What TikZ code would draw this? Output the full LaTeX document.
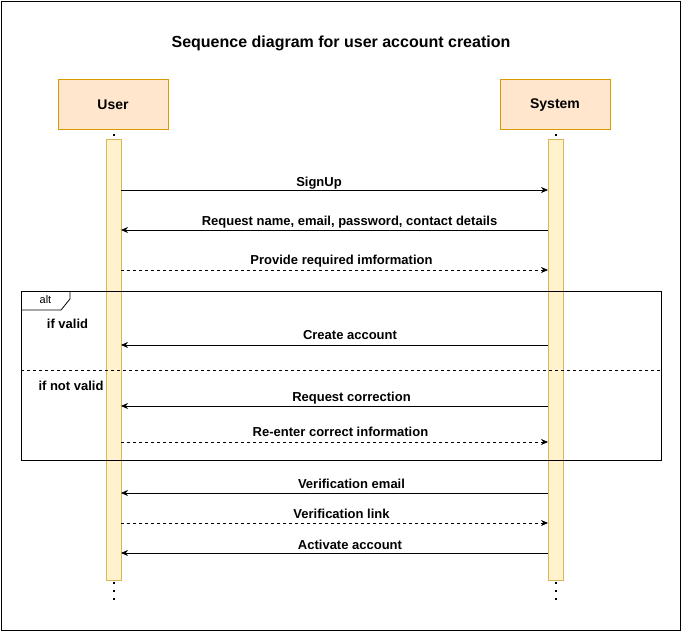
\documentclass[tikz,border=0pt]{standalone}
\usepackage{fontspec}
\setmainfont{Liberation Sans}
\usetikzlibrary{arrows.meta}
\definecolor{hdrfill}{HTML}{FFE6CC}
\definecolor{hdrdraw}{HTML}{D79B00}
\definecolor{barfill}{HTML}{FFF2CC}
\definecolor{bardraw}{HTML}{D6B656}
\tikzset{
  hdr/.style={draw=hdrdraw,fill=hdrfill,line width=1pt,minimum width=110pt,minimum height=50pt,inner sep=0pt,font=\fontsize{14}{16}\selectfont\bfseries},
  actbar/.style={draw=bardraw,fill=barfill,line width=1pt,minimum width=15pt,minimum height=440pt,inner sep=0pt},
  msg/.style={-{Stealth[length=7pt,width=6pt]},line width=0.8pt},
  reply/.style={msg,dashed,dash pattern=on 3pt off 3pt},
  lbl/.style={font=\fontsize{13}{15}\selectfont\bfseries,inner sep=0pt,anchor=base},
  cond/.style={font=\fontsize{13}{15}\selectfont\bfseries,inner sep=0pt},
  dotmark/.style={fill=black,draw=none,minimum size=2pt,inner sep=0pt}
}
\begin{document}
\begin{tikzpicture}[x=1pt,y=-1pt]
\useasboundingbox (0,0) rectangle (681,631);
\draw[line width=0.8pt] (1,1) rectangle (680,630);
\node[font=\fontsize{16}{19}\selectfont\bfseries] (title) at (341,43) {Sequence diagram for user account creation};
\node[hdr] (user) at (113,105) {User};
\node[hdr] (sys) at (555,105) {System};
\node[actbar] (ubar) at (113.5,360) {};
\node[actbar] (sbar) at (555.5,360) {};
% lifeline dots
\foreach \y [count=\i] in {135,583,591,599}{
  \node[dotmark] (ud\i) at (113.5,\y) {};
  \node[dotmark] (sd\i) at (555.5,\y) {};
}
% alt frame
\draw[line width=0.8pt] (21,291) rectangle (661,460);
\draw[line width=0.8pt] (21,310) -- (61,310) -- (70,299) -- (70,291);
\node[font=\fontsize{11}{13}\selectfont,inner sep=0pt] (alt) at (45.5,300) {alt};
\draw[line width=0.8pt,dashed,dash pattern=on 3pt off 3pt] (21,370) -- (661,370);
\node[cond] (c1) at (67.5,324) {if valid};
\node[cond] (c2) at (71,386) {if not valid};
% messages
\coordinate (u1) at (121,190); \coordinate (s1) at (548,190);
\draw[msg] (u1) -- (s1);
\node[lbl] (l1) at (319,186.5) {SignUp};
\coordinate (u2) at (121,230); \coordinate (s2) at (548,230);
\draw[msg] (s2) -- (u2);
\node[lbl] (l2) at (349.5,226) {Request name, email, password, contact details};
\coordinate (u3) at (121,270); \coordinate (s3) at (548,270);
\draw[reply] (u3) -- (s3);
\node[lbl] (l3) at (341.5,265) {Provide required imformation};
\coordinate (u4) at (121,345); \coordinate (s4) at (548,345);
\draw[msg] (s4) -- (u4);
\node[lbl] (l4) at (350,340) {Create account};
\coordinate (u5) at (121,406); \coordinate (s5) at (548,406);
\draw[msg] (s5) -- (u5);
\node[lbl] (l5) at (351.5,402) {Request correction};
\coordinate (u6) at (121,442); \coordinate (s6) at (548,442);
\draw[reply] (u6) -- (s6);
\node[lbl] (l6) at (340.5,437) {Re-enter correct information};
\coordinate (u7) at (121,493); \coordinate (s7) at (548,493);
\draw[msg] (s7) -- (u7);
\node[lbl] (l7) at (351.5,489) {Verification email};
\coordinate (u8) at (121,523); \coordinate (s8) at (548,523);
\draw[reply] (u8) -- (s8);
\node[lbl] (l8) at (341.5,518) {Verification link};
\coordinate (u9) at (121,553); \coordinate (s9) at (548,553);
\draw[msg] (s9) -- (u9);
\node[lbl] (l9) at (350,549) {Activate account};
\end{tikzpicture}
\end{document}
